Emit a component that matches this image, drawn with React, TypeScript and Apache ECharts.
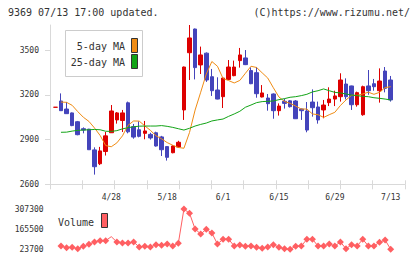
import React, { useEffect, useRef } from 'react';
import * as echarts from 'echarts';

// Trading days shown on the chart
const dates = [
  '4/14', '4/15', '4/16', '4/17', '4/20', '4/21', '4/22', '4/23', '4/24', '4/27',
  '4/28', '4/30', '5/1', '5/7', '5/8', '5/11', '5/12', '5/13', '5/14', '5/15',
  '5/18', '5/19', '5/20', '5/21', '5/22', '5/25', '5/26', '5/27', '5/28', '5/29',
  '6/1', '6/2', '6/3', '6/4', '6/5', '6/8', '6/9', '6/10', '6/11', '6/12',
  '6/15', '6/16', '6/17', '6/18', '6/19', '6/22', '6/23', '6/24', '6/25', '6/26',
  '6/29', '6/30', '7/1', '7/2', '7/3', '7/6', '7/7', '7/8', '7/9', '7/10',
  '7/13',
];

const opens = [
  3117, 3159, 3105, 3079, 3020, 2973, 2970, 2831, 2738, 2820,
  2946, 3032, 3028, 3147, 2987, 2966, 2942, 2935, 2946, 2918,
  2853, 2812, 2850, 3099, 3483, 3642, 3401, 3480, 3322, 3233,
  3188, 3304, 3329, 3430, 3448, 3363, 3349, 3186, 3179, 3206,
  3094, 3157, 3160, 3159, 3105, 3092, 3152, 3119, 3099, 3148,
  3172, 3188, 3273, 3260, 3134, 3067, 3260, 3275, 3228, 3360,
  3300,
];
const closes = [
  3117, 3094, 3074, 2994, 2933, 2964, 2832, 2718, 2824, 2925,
  3092, 3079, 3079, 2952, 2917, 2922, 2958, 2911, 2857, 2832,
  2781, 2857, 2882, 3387, 3582, 3383, 3468, 3300, 3228, 3172,
  3313, 3387, 3387, 3468, 3403, 3275, 3208, 3213, 3141, 3094,
  3125, 3143, 3121, 3040, 3094, 2964, 3114, 3032, 3132, 3172,
  3193, 3300, 3188, 3134, 3215, 3255, 3228, 3255, 3293, 3244,
  3166,
];
const lows = [
  3117, 3094, 3072, 2990, 2929, 2942, 2832, 2665, 2729, 2793,
  2946, 3007, 2951, 2942, 2906, 2915, 2902, 2900, 2853, 2790,
  2759, 2808, 2845, 3032, 3300, 3304, 3340, 3287, 3193, 3170,
  3112, 3300, 3325, 3383, 3400, 3272, 3181, 3183, 3094, 3040,
  3061, 3108, 3115, 3038, 3032, 2949, 3054, 3007, 3043, 3125,
  3125, 3155, 3170, 3099, 3121, 3060, 3201, 3228, 3148, 3217,
  3155,
];
const highs = [
  3117, 3210, 3152, 3082, 3025, 2982, 2972, 2848, 2851, 2951,
  3132, 3085, 3099, 3155, 3005, 3023, 3025, 2946, 2953, 2925,
  2855, 2862, 2892, 3390, 3669, 3645, 3524, 3485, 3374, 3318,
  3318, 3434, 3430, 3515, 3501, 3385, 3387, 3266, 3206, 3210,
  3143, 3175, 3165, 3165, 3108, 3152, 3237, 3155, 3166, 3251,
  3228, 3345, 3311, 3262, 3222, 3262, 3367, 3307, 3378, 3387,
  3327,
];

const ma5 = [
  null, 3152, 3150, 3130, 3088, 3050, 3022, 2978, 2928, 2860,
  2852, 2878, 2925, 2996, 3025, 3024, 2992, 2962, 2926, 2905,
  2880, 2862, 2847, 2842, 2948, 3098, 3218, 3340, 3424, 3392,
  3310, 3296, 3280, 3297, 3345, 3392, 3384, 3348, 3313, 3248,
  3186, 3156, 3143, 3125, 3105, 3105, 3072, 3067, 3049, 3067,
  3083, 3129, 3166, 3197, 3197, 3206, 3218, 3204, 3217, 3249,
  3255,
];
const ma25 = [
  null, 2949, 2950, 2957, 2962, 2964, 2966, 2968, 2966, 2956,
  2955, 2960, 2972, 2980, 2986, 2990, 2991, 2991, 2991, 2994,
  2989, 2982, 2973, 2964, 2976, 2991, 3002, 3011, 3025, 3032,
  3038, 3056, 3072, 3090, 3117, 3132, 3148, 3155, 3157, 3159,
  3168, 3175, 3184, 3188, 3195, 3204, 3220, 3228, 3240, 3228,
  3217, 3213, 3206, 3199, 3195, 3190, 3188, 3181, 3177, 3172,
  3166,
];

const volumes = [
  null, 46900, 35200, 37600, 28100, 44600, 58700, 75100, 84400, 84400,
  112600, 75100, 68000, 68000, 75100, 39900, 44600, 39900, 56300, 51600,
  61000, 46900, 65700, 307300, 276800, 166600, 131400, 164200, 138400, 61000,
  94100, 94100, 46900, 54000, 44800, 46900, 37800, 30700, 39900, 56100,
  37800, 27900, 23700, 44800, 46900, 94100, 94100, 46900, 46900, 61000,
  46900, 75100, 27900, 56100, 46900, 94100, 46900, 46900, 73000, 89100,
  23700,
];
// days whose volume point is drawn without a marker
const volumeNoMarker = ['4/28'];

const priceTicks = [2600, 2900, 3200, 3500];
const volumeTicks = [23700, 165500, 307300];
const labelDates = ['4/28', '5/18', '6/1', '6/15', '6/29', '7/13'];

const MONO = "'DejaVu Sans Mono', 'Liberation Mono', monospace";
const AXIS_GRAY = '#d9d9d9';
const TEXT = '#333333';
const UP = '#dd0000';
const DOWN = '#4444bb';
const MA5_COLOR = '#f08c14';
const MA25_COLOR = '#12a416';
const VOL_COLOR = '#ff5f62';

const plain = (v: number) => String(v);

export default function App() {
  const ref = useRef<HTMLDivElement>(null);

  useEffect(() => {
    if (!ref.current) return;
    const chart = echarts.init(ref.current, null, { renderer: 'svg' });

    const candles = dates.map((_, i) => [opens[i], closes[i], lows[i], highs[i]]);
    const volumeData = volumes.map((v, i) =>
      volumeNoMarker.includes(dates[i]) ? { value: v, symbolSize: 0 } : v
    );

    const priceMin = 2600;
    const priceMax = 3669;

    chart.setOption({
      animation: false,
      backgroundColor: '#ffffff',
      grid: [
        { left: 50, top: 25, width: 355, height: 159.3 },
        { left: 52.6, top: 25, width: 340.9, height: 159.3 },
        { left: 52.6, top: 209, width: 340.9, height: 40.3 },
      ],
      xAxis: [
        {
          type: 'value', gridIndex: 0, min: 0, max: 11, interval: 1, position: 'bottom',
          axisLine: { lineStyle: { color: AXIS_GRAY, width: 1 } },
          axisTick: { length: 5, lineStyle: { color: AXIS_GRAY } },
          axisLabel: { show: false }, splitLine: { show: false },
        },
        {
          type: 'value', gridIndex: 0, min: 0, max: 11, interval: 1, position: 'bottom',
          axisLine: { show: false },
          axisTick: { inside: true, length: 4, lineStyle: { color: AXIS_GRAY } },
          axisLabel: { show: false }, splitLine: { show: false },
        },
        {
          type: 'category', gridIndex: 1, data: dates, boundaryGap: true,
          axisLine: { show: false }, axisTick: { show: false }, splitLine: { show: false },
          axisLabel: {
            interval: (_i: number, v: string) => labelDates.includes(v),
            margin: 9, fontSize: 8, fontFamily: MONO, color: TEXT,
          },
        },
        { type: 'category', gridIndex: 2, data: dates, boundaryGap: true, show: false },
      ],
      yAxis: [
        {
          type: 'value', gridIndex: 0, min: priceMin, max: priceMax,
          axisLine: { show: true, lineStyle: { color: AXIS_GRAY, width: 1 } },
          axisTick: { show: true, length: 5, customValues: priceTicks, lineStyle: { color: AXIS_GRAY } },
          axisLabel: {
            customValues: priceTicks, formatter: plain,
            margin: 11, fontSize: 8, fontFamily: MONO, color: TEXT,
          },
          splitLine: { show: false },
        },
        {
          type: 'value', gridIndex: 0, min: priceMin, max: priceMax,
          axisLine: { show: false },
          axisTick: { show: true, inside: true, length: 3, customValues: priceTicks, lineStyle: { color: AXIS_GRAY } },
          axisLabel: { show: false }, splitLine: { show: false },
        },
        { type: 'value', gridIndex: 1, min: priceMin, max: priceMax, show: false },
        {
          type: 'value', gridIndex: 2, min: 23700, max: 307300,
          axisLine: { show: false }, axisTick: { show: false }, splitLine: { show: false },
          axisLabel: {
            customValues: volumeTicks, formatter: plain,
            margin: 9, fontSize: 8, fontFamily: MONO, color: TEXT,
          },
        },
      ],
      series: [
        {
          type: 'candlestick', xAxisIndex: 2, yAxisIndex: 2, data: candles,
          barWidth: 4,
          itemStyle: {
            color: UP, color0: DOWN, borderColor: UP, borderColor0: DOWN,
            borderColorDoji: UP, borderWidth: 1,
          },
        },
        {
          type: 'line', xAxisIndex: 2, yAxisIndex: 2, data: ma5, symbol: 'none',
          lineStyle: { color: MA5_COLOR, width: 1 }, itemStyle: { color: MA5_COLOR },
        },
        {
          type: 'line', xAxisIndex: 2, yAxisIndex: 2, data: ma25, symbol: 'none',
          lineStyle: { color: MA25_COLOR, width: 1 }, itemStyle: { color: MA25_COLOR },
        },
        {
          type: 'line', xAxisIndex: 3, yAxisIndex: 3, data: volumeData,
          symbol: 'diamond', symbolSize: 7, showAllSymbol: true, clip: false,
          lineStyle: { color: VOL_COLOR, width: 1 }, itemStyle: { color: VOL_COLOR },
        },
      ],
      graphic: [
        {
          type: 'text', left: 8, top: 7, z: 100,
          style: { text: '9369 07/13 17:00 updated.', font: `10px ${MONO}`, fill: TEXT },
        },
        {
          type: 'text', right: 10, top: 7, z: 100,
          style: { text: '(C)https://www.rizumu.net/', font: `10px ${MONO}`, fill: TEXT },
        },
        {
          type: 'rect', z: 100,
          shape: { x: 65.5, y: 30.5, width: 77, height: 46 },
          style: { fill: '#ffffff', stroke: '#cccccc', lineWidth: 1 },
        },
        {
          type: 'text', z: 101, x: 125, y: 46,
          style: { text: '5-day MA', font: `10px ${MONO}`, fill: TEXT, align: 'right', verticalAlign: 'middle' },
        },
        {
          type: 'text', z: 101, x: 125, y: 62,
          style: { text: '25-day MA', font: `10px ${MONO}`, fill: TEXT, align: 'right', verticalAlign: 'middle' },
        },
        {
          type: 'rect', z: 101,
          shape: { x: 131.5, y: 38.5, width: 6, height: 14 },
          style: { fill: MA5_COLOR, stroke: '#333333', lineWidth: 1 },
        },
        {
          type: 'rect', z: 101,
          shape: { x: 131.5, y: 54.5, width: 6, height: 14 },
          style: { fill: MA25_COLOR, stroke: '#333333', lineWidth: 1 },
        },
        {
          type: 'text', z: 101, x: 58, y: 222,
          style: { text: 'Volume', font: `10px ${MONO}`, fill: TEXT, align: 'left', verticalAlign: 'middle' },
        },
        {
          type: 'rect', z: 101,
          shape: { x: 101.5, y: 213.5, width: 6, height: 14 },
          style: { fill: VOL_COLOR, stroke: '#333333', lineWidth: 1 },
        },
      ],
    });

    return () => chart.dispose();
  }, []);

  return (
    <div
      ref={ref}
      style={{ position: 'fixed', left: 0, top: 0, width: 420, height: 259, background: '#fff' }}
    />
  );
}
